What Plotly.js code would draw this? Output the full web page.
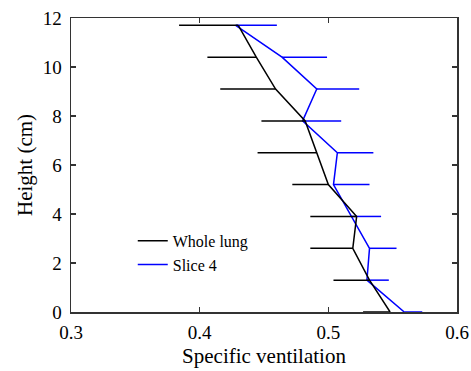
<!DOCTYPE html>
<html>
<head>
<meta charset="utf-8">
<script src="https://cdn.plot.ly/plotly-3.0.1.min.js"></script>
<style>html,body{margin:0;padding:0;background:#fff;}#chart{width:471px;height:371px;}</style>
</head>
<body>
<div id="chart"></div>
<script>
const heights = [0, 1.3, 2.6, 3.9, 5.2, 6.5, 7.8, 9.1, 10.4, 11.7];
const wholeLung = [0.548, 0.532, 0.519, 0.522, 0.500, 0.491, 0.482, 0.459, 0.444, 0.430];
const wholeLungErrMinus = [0.021, 0.028, 0.033, 0.036, 0.028, 0.046, 0.034, 0.043, 0.038, 0.046];
const slice4 = [0.559, 0.530, 0.532, 0.518, 0.504, 0.507, 0.480, 0.491, 0.464, 0.428];
const slice4ErrPlus = [0.014, 0.017, 0.021, 0.023, 0.028, 0.028, 0.030, 0.033, 0.035, 0.032];
const zeros = heights.map(() => 0);
const xTicks = [0.3, 0.4, 0.5, 0.6];
const yTicks = [0, 2, 4, 6, 8, 10, 12];

const font = 'Liberation Serif';

const traces = [
  {
    x: slice4, y: heights, type: 'scatter', mode: 'lines', name: 'Slice 4',
    line: {color: '#0000ff', width: 1.5},
    error_x: {type: 'data', symmetric: false, array: slice4ErrPlus, arrayminus: zeros,
              color: '#0000ff', thickness: 1.5, width: 0}
  },
  {
    x: wholeLung, y: heights, type: 'scatter', mode: 'lines', name: 'Whole lung',
    line: {color: '#000000', width: 1.5},
    error_x: {type: 'data', symmetric: false, array: zeros, arrayminus: wholeLungErrMinus,
              color: '#000000', thickness: 1.5, width: 0}
  }
];

const axisCommon = {
  showgrid: false, zeroline: false, showline: true, mirror: 'ticks',
  linecolor: '#333333', linewidth: 1.5, ticks: 'inside', ticklen: 5,
  tickcolor: '#333333', tickwidth: 1.5,
  tickfont: {family: font, size: 19, color: '#000'}
};

const layout = {
  width: 471, height: 371,
  margin: {l: 71, r: 14, t: 18, b: 59},
  paper_bgcolor: '#fff', plot_bgcolor: '#fff',
  showlegend: true,
  legend: {x: 0.16, y: 0.30, xanchor: 'left', yanchor: 'top', traceorder: 'reversed',
           bgcolor: 'rgba(0,0,0,0)', font: {family: font, size: 16, color: '#000'}},
  xaxis: Object.assign({}, axisCommon, {
    range: [0.3, 0.6], tickvals: xTicks, ticktext: xTicks.map(v => v.toFixed(1)),
    ticklabelstandoff: 3,
    title: {text: 'Specific ventilation', font: {family: font, size: 21, color: '#000'}, standoff: 6}
  }),
  yaxis: Object.assign({}, axisCommon, {
    range: [0, 12], tickvals: yTicks, ticktext: yTicks.map(String),
    ticklabelstandoff: 4,
    title: {text: 'Height (cm)', font: {family: font, size: 21, color: '#000'}, standoff: 4}
  })
};

Plotly.newPlot('chart', traces, layout, {displayModeBar: false, staticPlot: true});
</script>
</body>
</html>
